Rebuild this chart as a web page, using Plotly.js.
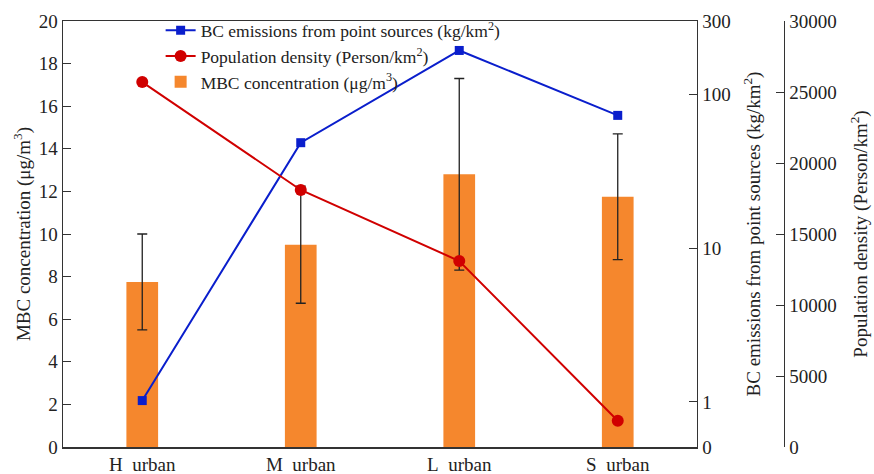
<!DOCTYPE html>
<html>
<head>
<meta charset="utf-8">
<script src="https://cdn.plot.ly/plotly-3.0.1.min.js"></script>
<style>html,body{margin:0;padding:0;background:#fff;}#chart{width:874px;height:474px;}</style>
</head>
<body>
<div id="chart"></div>
<script>
const categories = ["H\u00a0 urban", "M\u00a0 urban", "L\u00a0 urban", "S\u00a0 urban"];
const mbcConcentration = [7.75, 9.5, 12.8, 11.75];
const mbcError = [2.25, 2.75, 4.5, 2.95];
const bcEmissions = [1.02, 48.5, 193, 73];
const populationDensity = [25700, 18100, 13100, 1850];
const bcTickVals = [0.509, 1, 10, 100, 300];
const bcTickText = ["0", "1", "10", "100", "300"];

const FONT = "Liberation Serif";
const traces = [
  {
    type: "bar", x: categories, y: mbcConcentration,
    name: "MBC concentration (μg/m<sup>3</sup>)",
    marker: {color: "#F5872D"}, width: 0.2,
    error_y: {type: "data", array: mbcError, visible: true, color: "#222", thickness: 1.3, width: 5},
    legendrank: 3, yaxis: "y"
  },
  {
    type: "scatter", mode: "lines+markers", x: categories, y: bcEmissions,
    name: "BC emissions from point sources (kg/km<sup>2</sup>)",
    line: {color: "#0A1ECC", width: 2}, marker: {symbol: "square", size: 9, color: "#0A1ECC"},
    legendrank: 1, yaxis: "y2"
  },
  {
    type: "scatter", mode: "lines+markers", x: categories, y: populationDensity,
    name: "Population density (Person/km<sup>2</sup>)",
    line: {color: "#D00000", width: 2}, marker: {symbol: "circle", size: 12, color: "#D00000"},
    legendrank: 2, yaxis: "y3"
  }
];
const axisCommon = {
  showline: true, linecolor: "#333", linewidth: 1.5, ticks: "inside", ticklen: 8,
  tickcolor: "#333", showgrid: false, zeroline: false,
  tickfont: {family: FONT, size: 19, color: "#222"}
};
const layout = {
  width: 874, height: 474,
  margin: {l: 63, r: 60, t: 21, b: 27},
  paper_bgcolor: "#fff", plot_bgcolor: "#fff",
  font: {family: FONT, color: "#222"},
  showlegend: true,
  legend: {x: 0.13, y: 1.02, xanchor: "left", yanchor: "top", bgcolor: "rgba(0,0,0,0)",
           font: {family: FONT, size: 17.5, color: "#222"}, tracegroupgap: 0},
  xaxis: Object.assign({}, axisCommon, {domain: [0, 0.8442], range: [-0.5, 3.5], ticks: "", mirror: true,
           tickfont: {family: FONT, size: 19, color: "#222"}}),
  yaxis: Object.assign({}, axisCommon, {range: [0, 20], dtick: 2,
           title: {text: "MBC concentration (μg/m<sup>3</sup>)", font: {family: FONT, size: 19}, standoff: 3}}),
  yaxis2: Object.assign({}, axisCommon, {type: "log", overlaying: "y", side: "right", anchor: "x",
           range: [Math.log10(0.509), Math.log10(300)], tickvals: bcTickVals, ticktext: bcTickText,
           title: {text: "BC emissions from point sources (kg/km<sup>2</sup>)", font: {family: FONT, size: 19}, standoff: 17}}),
  yaxis3: Object.assign({}, axisCommon, {overlaying: "y", side: "right", anchor: "free", position: 0.960,
           range: [0, 30000], dtick: 5000, tickformat: "d",
           title: {text: "Population density (Person/km<sup>2</sup>)", font: {family: FONT, size: 19}, standoff: 18}})
};
Plotly.newPlot("chart", traces, layout, {displayModeBar: false, staticPlot: true});
</script>
</body>
</html>
